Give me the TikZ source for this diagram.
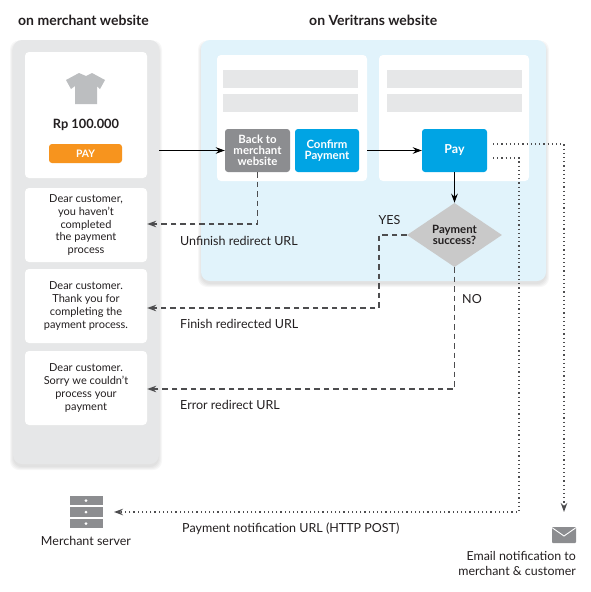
\documentclass[tikz,border=0pt]{standalone}
\usepackage{fontspec}
\setmainfont{Lato}
\usetikzlibrary{arrows.meta,shapes.geometric}
\newcommand{\softshadow}[4]{% x1 y1 x2 y2
  \foreach \grow in {3,2,1,0} {
    \fill[black, fill opacity=0.03, rounded corners=9pt]
    (#1-\grow, #2+3.5-\grow) rectangle (#3+\grow, #4+3+\grow);
  }}
\begin{document}
\begin{tikzpicture}[x=1pt, y=-1pt, >={Stealth[length=9pt,width=6.5pt]},
  every node/.style={text=inkdark, font=\fontsize{12.5}{13}\selectfont},
  card/.style={fill=white, rounded corners=4pt, inner sep=0pt, align=center,
    font=\fontsize{11}{12.7}\selectfont},
  slot/.style={fill=panelgray, minimum width=#1, minimum height=18pt, inner sep=0pt},
  action/.style={rounded corners=3pt, minimum width=65pt, minimum height=43pt, inner sep=0pt,
    align=center, text=white, font=\fontsize{11.4}{11}\selectfont\bfseries},
  caption/.style={anchor=west, inner sep=0pt},
  heading/.style={anchor=west, inner sep=0pt, font=\fontsize{14}{15}\selectfont\bfseries},
  solidline/.style={line width=1.1pt, draw=black},
  dashline/.style={line width=1.1pt, draw=inkdash, dash pattern=on 5.5pt off 4pt},
  dotline/.style={line width=1.2pt, draw=inkdash, dash pattern=on 1.2pt off 3pt}]
  \definecolor{inkdark}{HTML}{231F20}
  \definecolor{inkdash}{HTML}{4D4D4F}
  \definecolor{panelgray}{HTML}{E6E7E8}
  \definecolor{panelblue}{HTML}{E1F3FB}
  \definecolor{btnblue}{HTML}{00A4E4}
  \definecolor{btngray}{HTML}{8C8D90}
  \definecolor{btnorange}{HTML}{F7941E}
  \definecolor{shirtgray}{HTML}{BCBEC0}
  \useasboundingbox (0, 0) rectangle (591, 592);

  \node[heading] (merchanttitle) at (18, 20) {on merchant website};
  \node[heading] (veritranstitle) at (309, 20) {on Veritrans website};

  % Paneles
  \softshadow{13}{40}{159}{464}
  \softshadow{201}{40}{546}{281}
  \node[fill=panelgray, rounded corners=9pt, minimum width=146pt, minimum height=424pt,
    inner sep=0pt] (merchantpanel) at (86, 252) {};
  \node[fill=panelblue, rounded corners=9pt, minimum width=345pt, minimum height=241pt,
    inner sep=0pt] (veritranspanel) at (373.5, 160.5) {};

  % Tarjetas del comercio
  \node[card, minimum width=122pt, minimum height=126pt] (shopcard) at (86, 115) {};
  \node[card, minimum width=122pt, minimum height=74pt] (unfinishcard) at (86, 225)
    {Dear customer,\\you haven't\\completed\\the payment\\process};
  \node[card, minimum width=122pt, minimum height=74pt] (finishcard) at (86, 306)
    {Dear customer.\\Thank you for\\completing the\\payment process.};
  \node[card, minimum width=122pt, minimum height=74pt] (errorcard) at (86, 388)
    {Dear customer.\\Sorry we couldn't\\process your\\payment};

  % Camiseta
  \fill[shirtgray] (79, 73) -- (86, 76) -- (92, 73) -- (105, 80) -- (100, 89) -- (97, 86)
  -- (97, 104) -- (75, 104) -- (75, 86) -- (71, 89) -- (66, 80) -- cycle;
  \node[font=\fontsize{12.8}{14}\selectfont\bfseries] (price) at (86, 125) {Rp 100.000};
  \node[fill=btnorange, rounded corners=3pt, minimum width=73pt, minimum height=19pt,
    inner sep=0pt, text=white, font=\fontsize{10.3}{11}\selectfont\bfseries] (paybtn)
    at (85.5, 153.5) {PAY};

  % Paginas de Veritrans
  \node[card, minimum width=150pt, minimum height=126pt] (confirmcard) at (292, 118) {};
  \node[card, minimum width=150pt, minimum height=126pt] (paycard) at (454, 118) {};
  \node[slot=135pt] (slota) at (290.5, 79) {};
  \node[slot=135pt] (slotb) at (290.5, 103) {};
  \node[slot=135pt] (slotc) at (454.5, 79) {};
  \node[slot=135pt] (slotd) at (454.5, 103) {};
  \node[action, fill=btngray] (back) at (257.5, 150.5) {Back to\\merchant\\website};
  \node[action, fill=btnblue, minimum width=64pt] (confirm) at (327, 150.5) {Confirm\\Payment};
  \node[action, fill=btnblue, font=\fontsize{12.4}{13}\selectfont\bfseries] (pay) at (454.5, 150.5) {Pay};
  \node[diamond, fill=gray!42, minimum width=95pt, minimum height=59pt, inner sep=0pt,
    align=center, font=\fontsize{11.4}{11}\selectfont\bfseries] (success) at (454.5, 235)
    {Payment\\success?};

  % Servidor
  \foreach \slotname/\ytop in {top/496, mid/507.5, low/519} {
    \node[fill=btngray, minimum width=33pt, minimum height=9.3pt, inner sep=0pt]
      (server\slotname) at (86, \ytop+4.6) {};
    \fill[white] (server\slotname.center) circle (1.6);
  }
  \node (servertext) at (86, 541) {Merchant server};

  % Sobre
  \fill[btngray, rounded corners=1pt] (552, 527) rectangle (576, 543);
  \draw[white, line width=0.9pt] (552.5, 528) -- (564, 536) -- (575.5, 528);
  \node[anchor=north east, align=right, inner sep=0pt, font=\fontsize{12.4}{15}\selectfont]
    (emailtext) at (576, 551) {Email notification to\\merchant \& customer};

  % Flujo
  \coordinate (yesbend) at (379, 270);
  \coordinate (mailend) at (564, 512);
  \coordinate (postcorner) at (519, 512);
  \coordinate (mailstart) at (493, 144);
  \coordinate (poststart) at (493, 158);
  \coordinate (mailturn) at (564, 144);
  \coordinate (postturn) at (519, 158);
  \coordinate (serverend) at (114, 512);
  \draw[solidline, ->] (merchantpanel.east |- back.west) -- (back.west);
  \draw[solidline, ->] (confirmcard.east |- pay.west) -- (pay.west);
  \draw[solidline, line width=1.4pt, ->] (pay.south) -- (success.north);
  \draw[dashline, ->] (back.south) |- ([yshift=1pt]unfinishcard.east);
  \draw[dashline, ->] (success.west) -| (yesbend) |- ([yshift=-2pt]finishcard.east);
  \draw[dashline, ->] (success.south) |- ([yshift=-1pt]errorcard.east);
  \draw[dotline, ->] (mailstart) -- (mailturn) -- (mailend);
  \draw[dotline, ->] (poststart) -- (postturn) -- (postcorner) -- (serverend);

  \node[caption] (unfinishtext) at (180, 241) {Unfinish redirect URL};
  \node[caption] (finishtext) at (180, 324) {Finish redirected URL};
  \node[caption] (errortext) at (180, 405) {Error redirect URL};
  \node[caption] (posttext) at (182, 529) {Payment notification URL (HTTP POST)};
  \node (yestext) at (389.5, 220.5) {YES};
  \node[caption] (notext) at (462, 299) {NO};
\end{tikzpicture}
\end{document}
